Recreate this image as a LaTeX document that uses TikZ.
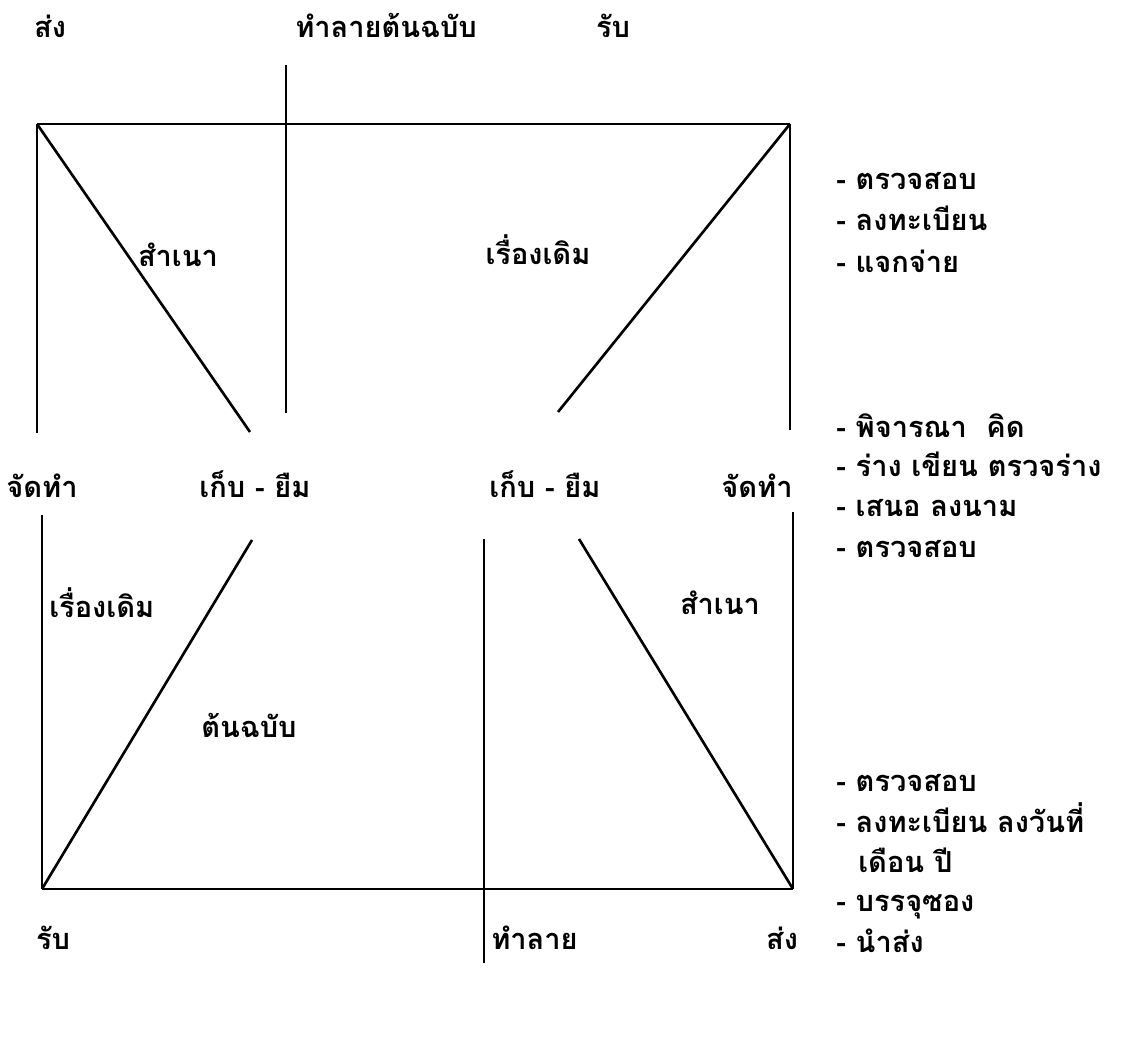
\documentclass[tikz,border=0pt]{standalone}
\usepackage{fontspec}
\setmainfont{Loma}[Script=Thai]

\begin{document}
\begin{tikzpicture}[x=0.02cm, y=-0.02cm, line width=1.5pt,
    lbl/.style={inner sep=0pt, text height=0.55em, text depth=0pt,
                font=\fontsize{16.5}{19}\selectfont\bfseries},
    item/.style={lbl, anchor=west}]
    \useasboundingbox (0,0) rectangle (1127,1040);

    % กรอบบน
    \coordinate (tl) at (37,124);
    \coordinate (tr) at (790,124);
    \coordinate (tlb) at (37,433);
    \coordinate (trb) at (790,430);
    \coordinate (tda) at (250,432);
    \coordinate (tdb) at (558,412);
    \coordinate (tva) at (286,65);
    \coordinate (tvb) at (286,413);
    \draw (tl) -- (tr);
    \draw (tl) -- (tlb);
    \draw (tr) -- (trb);
    \draw (tl) -- (tda);
    \draw (tr) -- (tdb);
    \draw (tva) -- (tvb);

    % กรอบล่าง
    \coordinate (bl) at (42,889);
    \coordinate (br) at (793,889);
    \coordinate (blt) at (42,515);
    \coordinate (brt) at (793,512);
    \coordinate (bda) at (252,540);
    \coordinate (bdb) at (579,539);
    \coordinate (bva) at (484,539);
    \coordinate (bvb) at (484,963);
    \draw (bl) -- (br);
    \draw (bl) -- (blt);
    \draw (br) -- (brt);
    \draw (bl) -- (bda);
    \draw (br) -- (bdb);
    \draw (bva) -- (bvb);

    % ข้อความด้านบน
    \node[lbl] (send1) at (50,33) {ส่ง};
    \node[item] (destroy1) at (294,33) {ทำลายต้นฉบับ};
    \node[lbl] (recv1) at (613,33) {รับ};

    % ข้อความในกรอบ
    \node[lbl] (copy1) at (178,262) {สำเนา};
    \node[lbl] (orig1) at (538,260) {เรื่องเดิม};
    \node[lbl] (make1) at (42,493) {จัดทำ};
    \node[lbl] (keep1) at (255,493) {เก็บ - ยืม};
    \node[lbl] (keep2) at (545,493) {เก็บ - ยืม};
    \node[lbl] (make2) at (757,493) {จัดทำ};
    \node[item] (orig2) at (48,613) {เรื่องเดิม};
    \node[lbl] (master) at (249,733) {ต้นฉบับ};
    \node[lbl] (copy2) at (720,610) {สำเนา};

    % ข้อความด้านล่าง
    \node[lbl] (recv2) at (53,945) {รับ};
    \node[item] (destroy2) at (490,945) {ทำลาย};
    \node[lbl] (send2) at (782,945) {ส่ง};

    % ขั้นตอนด้านขวา
    \node[item] (s1) at (835,185) {- ตรวจสอบ};
    \node[item] (s2) at (835,226) {- ลงทะเบียน};
    \node[item] (s3) at (835,268) {- แจกจ่าย};
    \node[item] (s4) at (835,433) {- พิจารณา\ \ คิด};
    \node[item] (s5) at (835,472) {- ร่าง เขียน ตรวจร่าง};
    \node[item] (s6) at (835,512) {- เสนอ ลงนาม};
    \node[item] (s7) at (835,553) {- ตรวจสอบ};
    \node[item] (s8) at (835,787) {- ตรวจสอบ};
    \node[item] (s9) at (835,828) {- ลงทะเบียน ลงวันที่};
    \node[item] (s10) at (857,868) {เดือน ปี};
    \node[item] (s11) at (835,907) {- บรรจุซอง};
    \node[item] (s12) at (835,948) {- นำส่ง};
\end{tikzpicture}
\end{document}
